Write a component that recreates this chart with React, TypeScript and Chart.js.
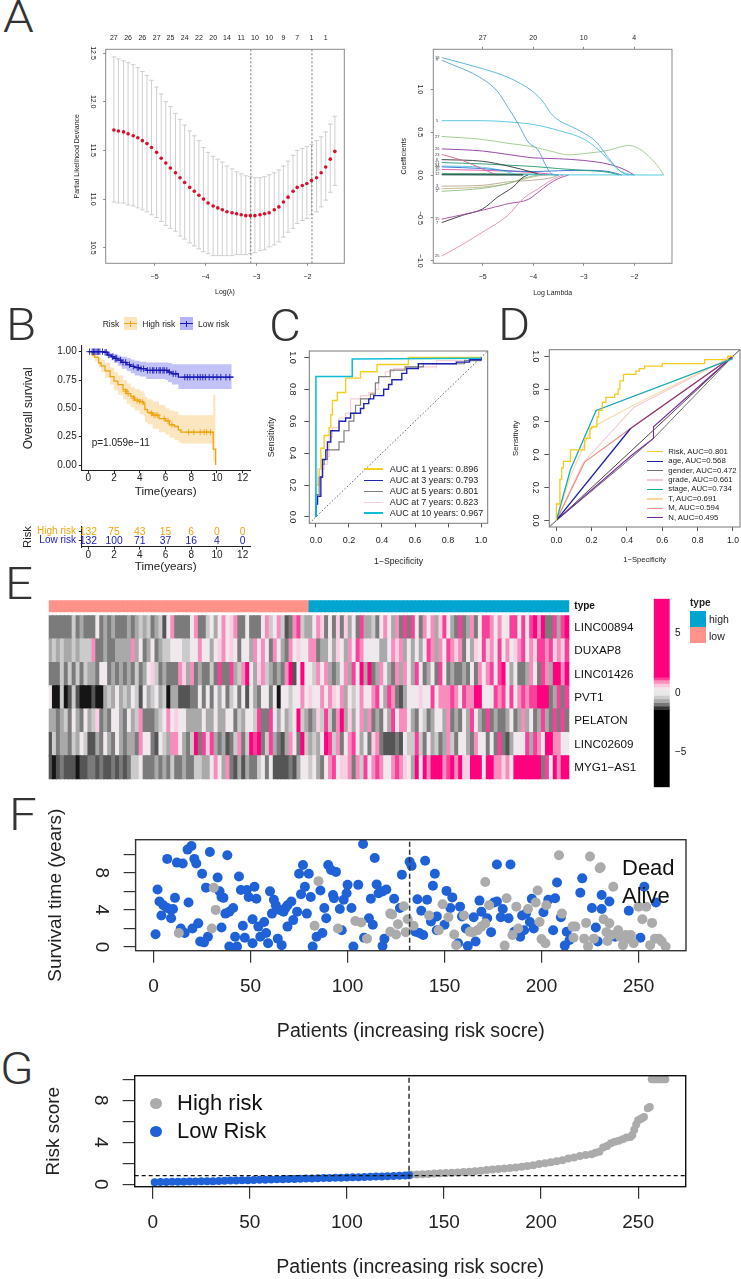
import React, { useEffect, useRef } from "react";
import { Chart, registerables } from "chart.js";
Chart.register(...registerables);

const FF = "'Liberation Sans', Arial, sans-serif";

// ---------- Panel A (left): partial likelihood deviance ----------
const cvLambda = [-5.80,-5.71,-5.61,-5.52,-5.42,-5.33,-5.24,-5.15,-5.06,-4.96,-4.87,-4.78,-4.69,-4.59,-4.50,-4.41,-4.31,-4.22,-4.13,-4.04,-3.95,-3.85,-3.76,-3.67,-3.58,-3.48,-3.39,-3.30,-3.21,-3.12,-3.03,-2.93,-2.84,-2.75,-2.65,-2.56,-2.47,-2.38,-2.28,-2.20,-2.10,-2.01,-1.92,-1.82,-1.73,-1.64,-1.55,-1.46];
const cvMean = [11.71,11.70,11.69,11.67,11.65,11.63,11.60,11.57,11.53,11.48,11.42,11.37,11.32,11.27,11.22,11.17,11.12,11.08,11.04,11.00,10.96,10.93,10.91,10.89,10.87,10.86,10.85,10.84,10.83,10.83,10.83,10.84,10.85,10.86,10.89,10.92,10.97,11.02,11.08,11.12,11.14,11.16,11.19,11.22,11.27,11.33,11.41,11.49];
const cvUpper = [12.46,12.44,12.42,12.40,12.38,12.35,12.31,12.27,12.22,12.15,12.08,12.00,11.95,11.88,11.82,11.76,11.70,11.65,11.60,11.53,11.48,11.44,11.41,11.38,11.34,11.31,11.28,11.26,11.24,11.23,11.22,11.22,11.23,11.25,11.27,11.30,11.34,11.39,11.45,11.50,11.52,11.54,11.56,11.60,11.64,11.69,11.77,11.85];
const cvLower = [10.97,10.96,10.96,10.94,10.93,10.91,10.89,10.87,10.84,10.81,10.77,10.73,10.70,10.67,10.62,10.59,10.55,10.52,10.49,10.46,10.44,10.42,10.42,10.42,10.42,10.42,10.43,10.43,10.43,10.44,10.45,10.47,10.48,10.51,10.53,10.56,10.61,10.66,10.70,10.75,10.78,10.80,10.84,10.87,10.92,10.99,11.07,11.14];
const cvTopTicks = [-5.80,-5.52,-5.24,-4.96,-4.69,-4.41,-4.13,-3.85,-3.58,-3.30,-3.03,-2.75,-2.47,-2.20,-1.92,-1.64];
const cvTopLabels = ["27","26","26","27","25","24","22","20","14","11","10","10","9","7","1","1"];
const cvLambdaMin = -3.11;
const cvLambda1se = -1.91;

// ---------- Panel A (right): coefficient paths ----------
const coefA: number[][] = [[-5.81,1.37],[-5,1.24],[-4.5,1.14],[-4,.97],[-3.8,.85],[-3.65,.72],[-3.5,.64],[-3.3,.58],[-3,.49],[-2.75,.385],[-2.5,.19],[-2.3,.055],[-2.15,.015],[-2,0]];
const coefB: number[][] = [[-5.81,1.34],[-5,1.12],[-4.7,.97],[-4.5,.79],[-4.3,.6],[-4.1,.385],[-3.9,.29],[-3.75,.11],[-3.65,.02],[-3.5,0]];
const coefC: number[][] = [[-5.81,.634],[-5,.634],[-4.5,.62],[-4,.59],[-3.5,.52],[-3,.42],[-2.7,.29],[-2.4,.11],[-2.2,.015],[-2.1,0]];
const coefD: number[][] = [[-5.81,.45],[-5,.415],[-4.5,.37],[-4,.33],[-3.5,.255],[-3.3,.235],[-3,.25],[-2.5,.29],[-2.3,.325],[-2.1,.345],[-1.9,.305],[-1.7,.21],[-1.5,.075],[-1.42,0]];
const coefE: number[][] = [[-5.81,.305],[-5,.28],[-4.5,.24],[-4,.2],[-3.5,.19],[-3,.17],[-2.5,.125],[-2.2,.065],[-2,0]];
const coefF: number[][] = [[-5.81,.24],[-5.4,.17],[-5,.07],[-4.8,.02],[-4.7,0]];
const coefG: number[][] = [[-5.81,.18],[-5,.16],[-4.5,.105],[-4,.03],[-3.85,0]];
const coefH: number[][] = [[-5.81,.145],[-5,.13],[-4.5,.115],[-4,.1],[-3.5,.075],[-3,.055],[-2.5,.03],[-2.3,0]];
const coefI: number[][] = [[-5.81,.095],[-5,.075],[-4.5,.05],[-4,.04],[-3.5,.05],[-3,.055],[-2.5,.04],[-2.25,0]];
const coefJ: number[][] = [[-5.81,.065],[-5,.055],[-4,.03],[-3.5,0]];
const coefK: number[][] = [[-5.81,.105],[-5,.09],[-4.6,.05],[-4.3,0]];
const coefL: number[][] = [[-5.81,.015],[-4,.01],[-3.5,0]];
const coefM: number[][] = [[-5.81,-.13],[-5,-.12],[-4.5,-.08],[-4,-.06],[-3.6,-.025],[-3.5,0]];
const coefN: number[][] = [[-5.81,-.16],[-5,-.14],[-4.5,-.1],[-4.2,-.05],[-3.9,-.01],[-3.7,0]];
const coefO: number[][] = [[-5.81,-.19],[-5,-.155],[-4.5,-.1],[-4.2,-.04],[-4,-.01],[-3.9,0]];
const coefP: number[][] = [[-5.81,-.555],[-5.4,-.47],[-5,-.395],[-4.7,-.255],[-4.4,-.14],[-4.2,-.025],[-4.1,0]];
const coefQ: number[][] = [[-5.81,-.515],[-5,-.41],[-4.5,-.335],[-4.1,-.285],[-3.9,-.2],[-3.7,-.11],[-3.5,-.04],[-3.3,0]];
const coefR: number[][] = [[-5.81,-.945],[-5.4,-.81],[-5,-.665],[-4.5,-.47],[-4.2,-.275],[-3.9,-.16],[-3.7,-.08],[-3.5,-.02],[-3.4,0]];
const coefZero: number[][] = [[-5.81,.005],[-1.42,0]];
const coefDense: number[][] = [[-5.81,.004],[-4.2,.002]];
const coefPaths = [coefL,coefJ,coefK,coefI,coefH,coefG,coefF,coefM,coefN,coefO,coefP,coefQ,coefR,coefE,coefD,coefC,coefB,coefA];
const coefColors = ["#1a7a50","#d94fa5","#55c8e0","#2a6fd6","#239a70","#333333","#d0608f","#b5a98a","#c2b58a","#8fbf80","#333333","#a04a9f","#e58ab0","#8a3a9a","#9cc98c","#4fc4dc","#5a9fd0","#4fb0dc"];
const coefIds = ["12","19","24","10","21","6","23","3","13","2","7","15","25","26","27","5","9","18"];

// ---------- Panel B: survival ----------
const highT = [0,.3,.5,.8,1,1.3,1.7,2,2.3,2.7,3,3.3,3.6,4,4.3,4.4,4.6,5,5.5,6,6.3,6.7,7,7.2,9.7,9.71,9.9];
const highS = [1,.97,.95,.9,.875,.83,.78,.74,.71,.665,.63,.605,.575,.56,.54,.49,.465,.44,.41,.39,.355,.34,.31,.29,.29,.14,0];
const highU = [1,.99,.98,.95,.93,.9,.86,.82,.79,.75,.72,.69,.67,.65,.63,.6,.58,.56,.53,.5,.48,.47,.44,.44,.44,.62,.62];
const highL = [1,.95,.91,.86,.82,.77,.71,.66,.62,.58,.54,.51,.48,.45,.43,.38,.36,.32,.29,.27,.24,.22,.2,.19,.19,.03,.03];
const lowT = [0,1.2,1.5,1.8,2,2.3,2.6,3,3.3,3.6,4,4.5,6,6.2,6.5,7,11.15];
const lowS = [1,.995,.97,.955,.94,.925,.905,.885,.87,.86,.85,.835,.835,.82,.805,.775,.775];
const lowU = [1,1,.99,.985,.98,.965,.955,.945,.93,.92,.91,.905,.905,.9,.89,.89,.89];
const lowL = [1,.99,.945,.925,.9,.875,.85,.83,.81,.79,.78,.76,.75,.73,.71,.67,.67];
const lowLineEnd = 11.3;
const highCensor: number[][] = [[2.9,.65],[3.1,.63],[3.5,.59],[3.8,.57],[4,.56],[4.2,.555],[4.9,.455],[5.1,.44],[5.25,.44],[5.4,.44],[5.9,.41],[6.2,.39],[6.5,.355],[7.8,.29],[8.2,.29],[8.7,.29],[9,.29],[9.2,.29],[9.5,.29]];
const lowCensor: number[][] = [[.1,1],[.3,1],[.4,1],[.5,1],[.6,1],[.7,1],[.8,1],[.9,1],[1.1,1],[1.3,.995],[1.4,.995],[1.6,.97],[1.9,.955],[2.1,.94],[2.2,.94],[2.5,.925],[2.7,.905],[2.9,.905],[3.2,.885],[3.5,.87],[3.8,.86],[3.9,.86],[4.1,.85],[4.3,.85],[4.6,.835],[4.8,.835],[5,.835],[5.1,.835],[5.3,.835],[5.5,.835],[5.6,.835],[5.8,.835],[5.9,.835],[6.1,.835],[6.3,.82],[6.6,.805],[6.8,.805],[7.5,.775],[7.7,.775],[7.9,.775],[8.2,.775],[8.5,.775],[8.7,.775],[8.9,.775],[9.1,.775],[9.4,.775],[9.7,.775],[10,.775],[10.3,.775],[10.7,.775],[11,.775]];
const riskTimes = [0,2,4,6,8,10,12];
const riskHighN = [132,75,43,15,6,0,0];
const riskLowN = [132,100,71,37,16,4,0];

// ---------- Panel C: ROC by year ----------
const rocY1: number[][] = [[0,0],[0,.2],[.02,.3],[.03,.43],[.05,.51],[.08,.56],[.09,.64],[.1,.73],[.13,.78],[.18,.87],[.27,.91],[.37,.955],[.56,.955],[.56,1],[1,1]];
const rocY3: number[][] = [[0,0],[0,.08],[.01,.13],[.03,.25],[.04,.36],[.06,.42],[.07,.47],[.09,.54],[.14,.6],[.18,.62],[.21,.65],[.27,.68],[.29,.71],[.32,.74],[.35,.76],[.41,.8],[.44,.83],[.46,.86],[.52,.9],[.55,.93],[.62,.96],[.85,.97],[.93,.985],[1,1]];
const rocY5: number[][] = [[0,0],[0,.14],[.02,.25],[.04,.33],[.05,.36],[.07,.42],[.14,.47],[.17,.54],[.2,.6],[.23,.65],[.24,.7],[.27,.74],[.33,.77],[.36,.84],[.38,.88],[.45,.92],[.54,.94],[.65,.96],[.9,.98],[1,1]];
const rocY7: number[][] = [[0,0],[0,.2],[.01,.3],[.05,.33],[.07,.38],[.08,.5],[.1,.56],[.14,.62],[.18,.65],[.21,.74],[.27,.76],[.32,.78],[.36,.8],[.38,.88],[.42,.91],[.47,.93],[.55,.94],[.73,.93],[.73,.98],[.9,.99],[1,1]];
const rocY10: number[][] = [[0,0],[0,.88],[.22,.88],[.22,.99],[1,.995]];
const rocNames = ["AUC at 1 years: 0.896","AUC at 3 years: 0.793","AUC at 5 years: 0.801","AUC at 7 years: 0.823","AUC at 10 years: 0.967"];
const rocColors = ["#f5cf1d","#1f22b4","#7f7f7f","#f6cfd6","#10bfd4"];

// ---------- Panel D: ROC by variable ----------
const varRisk: number[][] = [[0,0],[0,.04],[0,.1],[.02,.25],[.03,.32],[.04,.36],[.08,.43],[.15,.43],[.16,.5],[.19,.56],[.2,.57],[.23,.63],[.24,.67],[.26,.72],[.28,.75],[.33,.77],[.35,.8],[.36,.85],[.38,.89],[.45,.91],[.47,.925],[.5,.94],[.6,.955],[.84,.98],[.97,1],[1,1]];
const varAgeA: number[][] = [[0,0],[.42,.56]];
const varAgeB: number[][] = [[.42,.56],[.44,.575],[1,1]];
const varGender: number[][] = [[0,0],[.39,.35],[.55,.5],[1,1]];
const varGrade: number[][] = [[0,0],[.15,.35],[.44,.69],[1,1]];
const varStage: number[][] = [[0,0],[.08,.31],[.225,.67],[1,.985]];
const varT: number[][] = [[0,0],[.08,.27],[.2,.565],[.45,.71],[1,1]];
const varM: number[][] = [[0,0],[.16,.355],[.42,.56],[1,1]];
const varN: number[][] = [[0,0],[.43,.4],[.55,.5],[.55,.57],[1,1]];
const varNames = ["Risk, AUC=0.801","age, AUC=0.568","gender, AUC=0.472","grade, AUC=0.661","stage, AUC=0.734","T, AUC=0.691","M, AUC=0.594","N, AUC=0.495"];
const varColors = ["#f2cb1c","#1c1fa8","#6e6e6e","#f4c9cf","#16a9b4","#f7d9a0","#ec8f7f","#7a2a9a"];

// ---------- Panel E: heatmap ----------
const heatGenes = ["LINC00894","DUXAP8","LINC01426","PVT1","PELATON","LINC02609","MYG1−AS1"];
const heatRows = [
  "2222224232 2252323222 3234342341 5722225722 4535756722 5222574574 1278433576 2526263528 3342575372 8285275736 8532823725 8875755885 8589792283 89",
  "3434334344 4722322333 3735235234 4555445575 5356756525 5375752753 2756557723 3536537587 5555335767 3535358737 5876725365 8675857567 8576887867 68",
  "2224242424 3325523232 3242356423 2227637232 2428228347 9536743232 7915955475 7323573859 3923753273 7538523528 5232232527 5785895352 2375287399 79",
  "5004014100 0100343534 3541534534 0331112252 5253524525 1532552505 5455756557 5765735457 5578538721 3555655857 7787587799 5558785857 8788999238 28",
  "3323425325 3462325532 5347222345 7565533335 3353355243 5548228535 3459432364 8427936357 3723253857 7532542355 3723253853 2823223523 7352383282 82",
  "1423324354 1132532532 3327552154 3775324928 6832312472 4989248321 3752943435 9847257853 5267211121 5448425342 3742553275 5252821355 5838759977 55",
  "1012111011 2212112121 2445222323 2422322443 3575372131 3224525111 1213554532 5785667274 8578755787 6539597999 7897966999 5997767599 9999928597 99",
];
const heatLevels = ["#151515","#555555","#7b7b7b","#a9a9a9","#cbcbcb","#efe8ec","#f9d0e3","#f78dbd","#f8409a","#ff007f"];
const lowColumns = 66;
const annoColors = ["#ff9289","#00a5cf"];
const barEdges = [-7.9,-1.4,-1.1,-.8,-.5,-.2,.2,.5,.8,1.1,1.3,7.9];
const barColors = ["#000000","#333333","#777777","#aaaaaa","#cccccc","#e8e8e8","#f5e5ec","#fcc6dc","#fb8fbd","#ff3f97","#ff007f"];

// ---------- Panel F: survival time scatter ----------
const aliveXY: number[][] = [[1,1.37],[2,6.2],[3,4.9],[5,4.5],[4,3.4],[7,9.5],[7,4.2],[9,4],[9,3.1],[10,4.1],[11,5.3],[12,9.1],[15,9],[14,2],[16,1.5],[17.5,10.5],[19.5,10.9],[21,9.5],[22,9],[18,4.8],[20,2],[23,2.55],[25,7.9],[24,.6],[26,.5],[28,1.1],[27,6.4],[29,10.25],[33,7.5],[34,6],[35,5.4],[36,5.3],[35,2.1],[37,3.6],[38,9.9],[39,3.8],[41,4.2],[39,.04],[42,1.1],[43,.04],[44,7.6],[45,6.15],[46,2.3],[47,1],[48,6.15],[49,5.4],[51,.4],[51,3],[52,6.5],[53,5.2],[54,2.2],[55,1.1],[57,2.7],[58,1.5],[59,.4],[60,6],[61,3.6],[62,5.1],[63,4.5],[64,.9],[66,.2],[65,4],[67,3.8],[68,4.2],[69,4.5],[71,4.9],[69,2.2],[72,2.9],[74,3.8],[75,7.9],[76,5.7],[77,8.85],[78,6.5],[79,3.6],[80,7.9],[81,5.4],[82,.04],[84,1.1],[86,6.1],[87,1.5],[88,4.2],[89,3.1],[90,8.85],[91.5,8.3],[92.5,5.6],[94,8.1],[93,5.25],[96,4.1],[97,1.8],[98,5.1],[99.5,5.8],[100,6.7],[102,4.2],[103,.04],[105.5,6.7],[108.5,1],[108,11.1],[111,3.1],[112,5.2],[113,2.4],[114,9.6],[115,6.75],[116,5.8],[118,6],[118,.1],[119,.9],[120,6.2],[124,5.2],[127,4.2],[128,7.8],[132,9.2],[133,8.75],[135,1.65],[136,5.15],[137,1.5],[139,1.3],[138,3.9],[140,9.3],[141,5.1],[144,6.6],[145,7.9],[143,2.75],[146,3.3],[146,1.8],[150,2.4],[151,6.05],[153,4.2],[154,5.35],[157,.4],[158,4.35],[159,3.3],[161,2],[162,.1],[165,3.2],[166,.6],[168,5],[169,3.8],[172,3.1],[174,1.6],[175.5,4.8],[177,4.9],[177,8.9],[179,3.2],[180,4.1],[183,3.1],[184,8.9],[186,1.65],[189,1.1],[190,3.4],[191,1.8],[192,3.6],[194,2.7],[195,5.2],[196,2],[201,3.75],[203.5,5.1],[206,1.8],[207,5.25],[208,6.95],[210,3.2],[212,.15],[213,1.65],[214.5,.75],[220,5.85],[221,7.4],[226,4.2],[228,2.1],[229,.6],[231,5.6],[231,4.1],[235,4.9],[238,1.1],[245,3.9],[251,1],[253,6.5],[259,4.8]];
const deadXY: number[][] = [[13,1.5],[30,2],[31,6.4],[32,4],[83,2.3],[85,7.1],[95,2],[104,2.8],[107,2.65],[110,.9],[122,3.6],[123,3.5],[122,1.65],[125,1.35],[126,2.45],[129,4.4],[130,1.6],[131,3],[134,2.3],[142,3.4],[147,1.8],[149,4.6],[152,3.2],[155,1.35],[156,.2],[160,3.4],[163,1.65],[164.5,1.6],[167,1.8],[169,2.2],[171,7],[171,2.55],[173,4.5],[181,.15],[182,5.25],[185,1.3],[187,4.35],[188,2],[193,4.1],[197,4.8],[198,6.1],[199,2.7],[200,.85],[202,.4],[202.5,4.5],[210.5,3.6],[209,9.9],[216,2.2],[217.5,2.2],[216.5,1],[222,.9],[223,2.6],[224,.05],[225,9.75],[227,.9],[230.5,8.6],[230,8.5],[232,3],[233.5,1.6],[235,2.55],[234,.65],[237,6.5],[236,1.3],[239.5,1.8],[240.5,1.1],[242,.2],[243.5,1.3],[245,.9],[246,1.3],[247.5,.4],[250,4.35],[254,4.35],[252,3],[257,2.6],[256,.2],[258.5,.9],[260.5,.9],[262,.6],[264,.05]];
const cutIndex = 132;

// ---------- Panel G: risk score ----------
const lowRiskX = [1,4,7,10,13,16,19,22,25,28,31,34,37,40,43,46,49,52,55,58,61,64,67,70,73,76,79,82,85,88,91,94,97,100,103,106,109,112,115,118,121,124,127,130,132];
const lowRiskY = [.2,.21,.22,.23,.24,.25,.26,.27,.28,.29,.3,.32,.33,.35,.36,.38,.39,.41,.42,.44,.45,.47,.48,.5,.51,.53,.54,.56,.57,.59,.6,.62,.63,.65,.66,.68,.69,.71,.73,.75,.77,.79,.81,.83,.85];
const highRiskX = [133,136,139,142,145,148,151,154,157,160,163,166,169,172,175,178,181,184,187,190,193,196,199,202,205,208,211,214,217,220,223,226,228,230,232,234,236,238,240,242,244,246,247,248,249,250,251,252,253,255,256,257,258,259,260,261,262,263,264];
const highRiskY = [.9,.93,.96,.99,1.02,1.05,1.08,1.1,1.13,1.17,1.2,1.24,1.3,1.35,1.4,1.46,1.5,1.55,1.6,1.67,1.75,1.82,1.92,2,2.1,2.2,2.3,2.45,2.55,2.7,2.78,2.85,3,3.1,3.5,3.65,3.9,4.05,4.15,4.3,4.45,4.5,4.7,5.2,5.7,6.1,6.2,6.3,6.4,7.25,7.35,10,10,10,10,10,10,10,10];
const riskCut = 0.82;
const patientTicks = [0,50,100,150,200,250];

// ---------- helpers ----------
type Axis = {
  min?: number; max?: number; ticks?: number[]; fmt: (v: number, i: number) => string; size: number;
  color?: any; tl: number; labelAt: number; title?: string; titleAt?: number; titleSize?: number; rotated?: boolean;
  sample?: string; tickColor?: string; tickWidth?: number; line?: { color: string; width: number }; hide?: boolean; fontFn?: any;
};
type Spec = {
  type?: string; rect: number[]; outer: number[]; x: Axis; y: Axis; top?: Axis; rightY?: boolean;
  datasets: any[]; labels?: any[]; box?: { color: string; width: number }; draw?: (c: any) => void; stacked?: boolean;
};
const mc = typeof document !== "undefined" ? document.createElement("canvas").getContext("2d") : null;
function textW(s: string, size: number) { if (!mc) return 0; mc.font = `${size}px ${FF}`; return mc.measureText(s).width; }
const fixed = (d: number) => (v: number) => v.toFixed(d).replace("-", "−");

function makeAxis(a: Axis, pos: string, s: Spec) {
  const [l, t, r, b] = s.rect; const [L, T, R, B] = s.outer;
  if (a.hide) return { display: false, stacked: s.stacked, min: a.min, max: a.max, type: s.type === "bar" ? "category" : "linear" };
  const horizontal = pos === "bottom" || pos === "top";
  let pad = 0;
  if (pos === "bottom") pad = a.labelAt - b - a.tl - 0.6 * a.size;
  if (pos === "top") pad = t - a.tl - a.labelAt - 0.6 * a.size;
  if (pos === "left") pad = a.rotated ? l - a.tl - a.labelAt - textW(a.sample || "0", a.size) / 2 : l - a.tl - a.labelAt;
  if (pos === "right") pad = a.labelAt - r - a.tl;
  const ts = a.titleSize || a.size;
  const titlePad = a.title ? (pos === "bottom" ? B - (a.titleAt as number) - 0.6 * ts : (a.titleAt as number) - 0.6 * ts - L) : 0;
  return {
    type: "linear", position: pos, min: a.min, max: a.max, stacked: s.stacked,
    afterBuildTicks: (sc: any) => { sc.ticks = (a.ticks as number[]).map((value) => ({ value })); },
    afterFit: (sc: any) => {
      if (pos === "bottom") sc.height = B - b; else if (pos === "top") sc.height = t - T;
      else if (pos === "left") sc.width = l - L; else sc.width = R - r;
      sc.paddingTop = 0; sc.paddingBottom = 0; sc.paddingLeft = 0; sc.paddingRight = 0;
    },
    grid: { display: true, drawOnChartArea: false, drawTicks: a.tl > 0, tickLength: a.tl, color: a.tickColor || "#555555", lineWidth: a.tickWidth || 1 },
    border: a.line ? { display: true, color: a.line.color, width: a.line.width } : { display: false },
    ticks: {
      autoSkip: false, padding: pad, color: a.color || "#222222",
      font: a.fontFn || { size: a.size, family: FF },
      callback: (v: number, i: number) => a.fmt(v, i),
      ...(horizontal ? { maxRotation: 0, minRotation: 0 } : a.rotated ? { minRotation: -90, maxRotation: 0, crossAlign: "center" } : { minRotation: 0, maxRotation: 0 }),
    },
    title: a.title ? { display: true, text: a.title, color: "#222222", font: { size: ts, family: FF }, padding: { top: titlePad, bottom: titlePad } } : { display: false },
  };
}

function buildConfig(s: Spec) {
  const [l, t, r, b] = s.rect; const [L, T, R, B] = s.outer;
  const n = s.datasets.length;
  const datasets = s.datasets.map((d, i) => ({ order: n - i, ...d }));
  const scales: any = { x: makeAxis(s.x, "bottom", s), y: makeAxis(s.y, s.rightY ? "right" : "left", s) };
  if (s.top) scales.xT = { ...makeAxis(s.top, "top", s), axis: "x" };
  const padding: any = { top: s.top ? 0 : t - T, right: s.rightY ? 0 : R - r, left: s.rightY ? l - L : 0, bottom: s.x.hide ? B - b : 0 };
  return {
    type: s.type || "line",
    data: { labels: s.labels, datasets },
    options: {
      animation: false, responsive: false, events: [], layout: { padding },
      plugins: { legend: { display: false }, tooltip: { enabled: false }, title: { display: false } },
      scales,
    },
    plugins: [{
      id: "panelExtras",
      afterDatasetsDraw(c: any) {
        const ctx = c.ctx; const A = c.chartArea;
        if (s.box) { ctx.save(); ctx.strokeStyle = s.box.color; ctx.lineWidth = s.box.width; ctx.strokeRect(A.left, A.top, A.right - A.left, A.bottom - A.top); ctx.restore(); }
        if (s.draw) { ctx.save(); s.draw(c); ctx.restore(); }
      },
    }],
  };
}

function Panel({ spec }: { spec: Spec }) {
  const ref = useRef<HTMLCanvasElement | null>(null);
  const [L, T, R, B] = spec.outer;
  useEffect(() => {
    const c = new Chart(ref.current as any, buildConfig(spec) as any);
    return () => c.destroy();
  }, []);
  return <canvas ref={ref} width={R - L} height={B - T} style={{ position: "absolute", left: L, top: T, width: R - L, height: B - T }} />;
}

function Txt({ x, y, s, size, color = "#222", anchor = "left", bold = false, family = FF, weight, stretch }: any) {
  const tx = anchor === "center" ? "-50%" : anchor === "right" ? "-100%" : "0";
  const sc = stretch ? ` scaleX(${stretch})` : "";
  return <div style={{ position: "absolute", left: x, top: y, transform: `translate(${tx},-50%)${sc}`, transformOrigin: "left center", fontFamily: family, fontSize: size, lineHeight: 1, color, whiteSpace: "nowrap", fontWeight: weight || (bold ? 700 : 400) }}>{s}</div>;
}
function Box({ x, y, w, h, bg, radius }: any) {
  return <div style={{ position: "absolute", left: x, top: y, width: w, height: h, background: bg, borderRadius: radius }} />;
}
const xy = (p: number[][]) => p.map(([x, y]) => ({ x, y }));
const zip = (a: number[], b: number[]) => a.map((x, i) => ({ x, y: b[i] }));
const lineDs = (data: any[], color: string, width = 1, extra: any = {}) => ({ data, borderColor: color, borderWidth: width, pointRadius: 0, fill: false, clip: 0, tension: 0, ...extra });
const dotDs = (data: any[], color: string, r: number, extra: any = {}) => ({ data, showLine: false, pointRadius: r, pointBackgroundColor: color, pointBorderWidth: 0, clip: 0, ...extra });

// error bar segments of panel A, built from the three arrays
function errorBars() {
  const out: any[] = []; const cap = 0.045;
  cvLambda.forEach((x, i) => {
    out.push({ x, y: cvLower[i] }, { x, y: cvUpper[i] }, { x: NaN, y: NaN });
    out.push({ x: x - cap, y: cvUpper[i] }, { x: x + cap, y: cvUpper[i] }, { x: NaN, y: NaN });
    out.push({ x: x - cap, y: cvLower[i] }, { x: x + cap, y: cvLower[i] }, { x: NaN, y: NaN });
  });
  return out;
}

const specA1: Spec = {
  rect: [105.7, 49.3, 344.3, 263.3], outer: [60, 25, 352, 300], box: { color: "#8a8a8a", width: 1 },
  x: { min: -5.96, max: -1.275, ticks: [-5, -4, -3, -2], fmt: fixed(0), size: 7, tl: 2.5, labelAt: 277.3, title: "Log(λ)", titleAt: 291.7, tickColor: "#888888" },
  y: { min: 10.341, max: 12.538, ticks: [10.5, 11, 11.5, 12, 12.5], fmt: fixed(1), size: 7, tl: 2.5, labelAt: 93.3, rotated: true, sample: "12.5", title: "Partial Likelihood Deviance", titleAt: 76.7, tickColor: "#888888" },
  top: { min: -5.96, max: -1.275, ticks: cvTopTicks, fmt: (_v, i) => cvTopLabels[i], size: 7, tl: 0, labelAt: 37.7 },
  datasets: [
    lineDs(errorBars(), "#c9c9c9", 0.9, { spanGaps: false }),
    lineDs(xy([[cvLambdaMin, 10.341], [cvLambdaMin, 12.538]]), "#555555", 0.8, { borderDash: [2, 2] }),
    lineDs(xy([[cvLambda1se, 10.341], [cvLambda1se, 12.538]]), "#555555", 0.8, { borderDash: [2, 2] }),
    dotDs(zip(cvLambda, cvMean), "#dc0c2c", 1.8),
  ],
};

const specA2: Spec = {
  rect: [433.3, 49.3, 672, 263.3], outer: [395, 25, 680, 300], box: { color: "#8a8a8a", width: 1 },
  x: { min: -5.977, max: -1.254, ticks: [-5, -4, -3, -2], fmt: fixed(0), size: 7, tl: 2.5, labelAt: 277.3, title: "Log Lambda", titleAt: 293, tickColor: "#888888" },
  y: { min: -1.03, max: 1.467, ticks: [-1, -0.5, 0, 0.5, 1], fmt: fixed(1), size: 7, tl: 2.5, labelAt: 420, rotated: true, sample: "−0.5", title: "Coefficients", titleAt: 404.3, tickColor: "#888888" },
  top: { min: -5.977, max: -1.254, ticks: [-5, -4, -3, -2], fmt: (_v, i) => ["27", "20", "10", "4"][i], size: 7, tl: 2.5, labelAt: 37.7, tickColor: "#888888" },
  datasets: [
    ...coefPaths.map((p, i) => lineDs(xy(p), coefColors[i], 0.9, { cubicInterpolationMode: "monotone" })),
    lineDs(xy(coefZero), "#40c4dc", 0.9),
    lineDs(xy(coefDense), "#224433", 1.1),
  ],
  draw(c) {
    const ctx = c.ctx; ctx.font = `4px ${FF}`; ctx.fillStyle = "#444"; ctx.textAlign = "center"; ctx.textBaseline = "middle";
    coefPaths.forEach((p, i) => ctx.fillText(coefIds[i], c.scales.x.getPixelForValue(-5.9), c.scales.y.getPixelForValue(p[0][1])));
  },
};

const ORANGE = "#efa40f"; const NAVY = "#1818b8";
const specB: Spec = {
  rect: [81.3, 346, 250, 470.7], outer: [15, 335, 255, 500],
  x: { min: -0.544, max: 12.57, ticks: riskTimes, fmt: fixed(0), size: 10, tl: 2.5, labelAt: 478.3, title: "Time(years)", titleAt: 491.7, titleSize: 11.7, line: { color: "#222", width: 1.1 }, tickColor: "#222" },
  y: { min: -0.05, max: 1.05, ticks: [0, .25, .5, .75, 1], fmt: fixed(2), size: 10, tl: 2.5, labelAt: 76.7, title: "Overall survival", titleAt: 28.3, titleSize: 12, line: { color: "#222", width: 1.1 }, tickColor: "#222" },
  datasets: [
    lineDs(zip(highT, highU), "rgba(0,0,0,0)", 0, { stepped: true, fill: "+1", backgroundColor: "rgba(245,180,60,0.33)" }),
    lineDs(zip(highT, highL), "rgba(0,0,0,0)", 0, { stepped: true }),
    lineDs(zip(lowT, lowU), "rgba(0,0,0,0)", 0, { stepped: true, fill: "+1", backgroundColor: "rgba(70,70,235,0.33)" }),
    lineDs(zip(lowT, lowL), "rgba(0,0,0,0)", 0, { stepped: true }),
    lineDs(zip(highT, highS), ORANGE, 1.3, { stepped: true }),
    lineDs([...zip(lowT, lowS), { x: lowLineEnd, y: lowS[lowS.length - 1] }], NAVY, 1.3, { stepped: true }),
    dotDs(xy(highCensor), ORANGE, 3, { pointStyle: "cross", pointBorderColor: ORANGE, pointBorderWidth: 0.9 }),
    dotDs(xy(lowCensor), NAVY, 3.2, { pointStyle: "cross", pointBorderColor: NAVY, pointBorderWidth: 0.9 }),
  ],
};

const specRisk: Spec = {
  rect: [81.3, 527, 250, 547], outer: [15, 520, 255, 575],
  x: { min: -0.544, max: 12.57, ticks: riskTimes, fmt: fixed(0), size: 10, tl: 2.5, labelAt: 555.7, title: "Time(years)", titleAt: 567, titleSize: 11.7, line: { color: "#222", width: 1.1 }, tickColor: "#222" },
  y: { min: 0.3, max: 2.52, ticks: [1, 2], fmt: (v) => (v === 2 ? "High risk" : "Low risk"), size: 10, tl: 2.5, labelAt: 76, title: "Risk", titleAt: 28.3, titleSize: 11.3, color: (c: any) => (c.tick.value === 2 ? ORANGE : NAVY), line: { color: "#222", width: 1.1 }, tickColor: "#222" },
  datasets: [lineDs([], "#000")],
  draw(c) {
    const ctx = c.ctx; ctx.font = `10.3px ${FF}`; ctx.textAlign = "center"; ctx.textBaseline = "middle";
    riskTimes.forEach((t, i) => {
      const px = c.scales.x.getPixelForValue(t);
      ctx.fillStyle = ORANGE; ctx.fillText(String(riskHighN[i]), px, c.scales.y.getPixelForValue(2));
      ctx.fillStyle = NAVY; ctx.fillText(String(riskLowN[i]), px, c.scales.y.getPixelForValue(1));
    });
  },
};

const rocTicks = [0, .2, .4, .6, .8, 1];
const specC: Spec = {
  rect: [309.3, 351, 487.7, 523.3], outer: [262, 345, 495, 572], box: { color: "#777777", width: 1 },
  x: { min: -.04, max: 1.04, ticks: rocTicks, fmt: fixed(1), size: 9, tl: 4, labelAt: 540.7, title: "1−Specificity", titleAt: 562, titleSize: 8.7 },
  y: { min: -.04, max: 1.04, ticks: rocTicks, fmt: fixed(1), size: 9, tl: 5, labelAt: 292.7, rotated: true, sample: "0.0", title: "Sensitivity", titleAt: 271.7, titleSize: 8.9 },
  datasets: [
    lineDs(xy([[-.04, -.04], [1.04, 1.04]]), "#333333", 0.8, { borderDash: [1.5, 2] }),
    lineDs(xy(rocY1), rocColors[0], 1.4, { stepped: true }),
    lineDs(xy(rocY7), rocColors[3], 1.2, { stepped: true }),
    lineDs(xy(rocY5), rocColors[2], 1.2, { stepped: true }),
    lineDs(xy(rocY3), rocColors[1], 1.4, { stepped: true }),
    lineDs(xy(rocY10), rocColors[4], 1.6),
  ],
};

const specD: Spec = {
  rect: [549.3, 349.7, 740, 527], outer: [505, 345, 741, 570], box: { color: "#777777", width: 1 },
  x: { min: -.04, max: 1.04, ticks: rocTicks, fmt: fixed(1), size: 8.6, tl: 4, labelAt: 540.7, title: "1−Specificity", titleAt: 560, titleSize: 7.6 },
  y: { min: -.04, max: 1.04, ticks: rocTicks, fmt: fixed(1), size: 8.6, tl: 5, labelAt: 535.7, rotated: true, sample: "0.0", title: "Sensitivity", titleAt: 516, titleSize: 7.8 },
  datasets: [
    lineDs(xy([[-.04, -.04], [1.04, 1.04]]), "#333333", 0.9),
    lineDs(xy(varGender), varColors[2], 1),
    lineDs(xy(varGrade), varColors[3], 1.1),
    lineDs(xy(varT), varColors[5], 1.1),
    lineDs(xy(varM), varColors[6], 1.1),
    lineDs(xy(varAgeB), "#8a3a7a", 1.1),
    lineDs(xy(varN), varColors[7], 1.1),
    lineDs(xy(varAgeA), varColors[1], 1.3),
    lineDs(xy(varStage), varColors[4], 1.3),
    lineDs(xy(varRisk), varColors[0], 1.3, { stepped: true }),
  ],
};

// heatmap: stacked bars, one dataset per row (bottom row first)
const heatMatrix = heatRows.map((s) => s.replace(/ /g, "").split("").map(Number));
const heatCols = heatMatrix[0].map((_v, i) => i + 1);
const HEAT_TOP = 7.671;
const heatTickVals = [.5, 1.5, 2.5, 3.5, 4.5, 5.5, 6.5, 7.421];
const heatTickTxt = [...heatGenes].reverse().concat(["type"]);
const cellStyle = { barPercentage: 1, categoryPercentage: 1, borderWidth: 0, inflateAmount: 0.7 };
const specE: Spec = {
  type: "bar", stacked: true, labels: heatCols, rightY: true,
  rect: [48.7, 600.3, 569.3, 779.3], outer: [45, 598, 650, 782],
  x: { hide: true, fmt: String, size: 1, tl: 0, labelAt: 0 },
  y: { min: 0, max: HEAT_TOP, ticks: heatTickVals, fmt: (_v, i) => heatTickTxt[i], size: 11.7, tl: 0, labelAt: 574.3, color: "#111",
       fontFn: (c: any) => (c.tick && c.tick.value > 7 ? { size: 10, family: FF, weight: "bold" } : { size: 11.7, family: FF }) },
  datasets: [
    ...[...heatMatrix].reverse().map((row, i) => ({ order: i, data: row.map(() => 1), backgroundColor: row.map((v) => heatLevels[v]), ...cellStyle })),
    { order: 7, data: heatCols.map(() => 0.171), backgroundColor: "rgba(0,0,0,0)", barPercentage: 1, categoryPercentage: 1, borderWidth: 0 },
    { order: 8, data: heatCols.map(() => 0.5), backgroundColor: heatCols.map((c) => (c <= lowColumns ? annoColors[0] : annoColors[1])), ...cellStyle, inflateAmount: 0.4 },
  ],
};
const specBar: Spec = {
  type: "bar", labels: [""], rightY: true,
  rect: [653.7, 598.7, 669.7, 787.3], outer: [650, 596, 695, 790],
  x: { hide: true, fmt: String, size: 1, tl: 0, labelAt: 0 },
  y: { min: -7.9, max: 7.9, ticks: [-5, 0, 5], fmt: fixed(0), size: 10, tl: 0, labelAt: 675, color: "#111" },
  datasets: barColors.map((col, i) => ({ data: [[barEdges[i], barEdges[i + 1]]], backgroundColor: col, grouped: false, barPercentage: 1, categoryPercentage: 1, borderWidth: 0 })),
};

const halfTicks = (v: number) => (v % 4 === 0 ? String(v) : "");
const BLUE = "#1f62d8"; const GREY = "#ababab";
const specF: Spec = {
  rect: [135.6, 839.7, 686, 950.7], outer: [40, 800, 695, 1045], box: { color: "#333333", width: 1.4 },
  x: { min: -9.3, max: 274.5, ticks: patientTicks, fmt: fixed(0), size: 19, tl: 12, labelAt: 986.7, title: "Patients (increasing risk socre)", titleAt: 1032, titleSize: 19.6, tickColor: "#333", tickWidth: 1.2 },
  y: { min: -0.4, max: 11.57, ticks: [0, 2, 4, 6, 8, 10], fmt: halfTicks, size: 19, tl: 12, labelAt: 101, rotated: true, sample: "8", title: "Survival time (years)", titleAt: 55.8, titleSize: 19, tickColor: "#333", tickWidth: 1.2 },
  datasets: [
    dotDs(xy(aliveXY), BLUE, 5),
    dotDs(xy(deadXY), GREY, 5),
    lineDs(xy([[cutIndex, -0.4], [cutIndex, 11.57]]), "#333333", 1.5, { borderDash: [5, 3] }),
  ],
};
const specG: Spec = {
  rect: [134.7, 1075.7, 685.7, 1186.7], outer: [40, 1070, 695, 1279], box: { color: "#111111", width: 1.4 },
  x: { min: -9.3, max: 274.5, ticks: patientTicks, fmt: fixed(0), size: 19, tl: 12, labelAt: 1222.7, title: "Patients (increasing risk socre)", titleAt: 1268, titleSize: 19.6, tickColor: "#333", tickWidth: 1.2 },
  y: { min: -0.23, max: 10.34, ticks: [0, 2, 4, 6, 8, 10], fmt: halfTicks, size: 19, tl: 12, labelAt: 100.6, rotated: true, sample: "8", title: "Risk score", titleAt: 54, titleSize: 19, tickColor: "#333", tickWidth: 1.2 },
  datasets: [
    dotDs(zip(highRiskX, highRiskY), GREY, 4),
    dotDs(zip(lowRiskX, lowRiskY), BLUE, 4),
    lineDs(xy([[cutIndex, -0.23], [cutIndex, 10.34]]), "#333333", 1.5, { borderDash: [5, 3] }),
    lineDs(xy([[-9.3, riskCut], [274.5, riskCut]]), "#111111", 1.2, { borderDash: [4, 3] }),
  ],
};

const letters: any[] = [["A", 3, 17], ["B", 6, 325], ["C", 269, 326], ["D", 498, 325], ["E", 5, 584], ["F", 9, 815], ["G", 0, 1069]];
const rocRows = [469, 480.3, 491.3, 502.3, 513];
const varRows = [451.7, 461.3, 470.7, 480, 489.3, 499, 508.3, 517.7];

export default function App() {
  useEffect(() => { document.body.style.margin = "0"; }, []);
  return (
    <div style={{ position: "absolute", left: 0, top: 0, width: 741, height: 1279, overflow: "hidden", background: "#fff" }}>
      {[specA1, specA2, specB, specRisk, specC, specD, specE, specBar, specF, specG].map((s, i) => <Panel key={i} spec={s} />)}
      {letters.map(([s, x, y]) => <Txt key={s} s={s} x={x} y={y} size={44} color="#333" family="Roboto, 'Liberation Sans'" weight={300} stretch={1.12} />)}

      <Txt s="Risk" x={102.7} y={323.7} size={8.5} />
      <Box x={124} y={317.3} w={13} h={12.7} bg="rgba(245,180,60,0.35)" />
      <Box x={124} y={323.2} w={13} h={1.1} bg={ORANGE} />
      <Box x={130} y={320.5} w={1} h={6.5} bg={ORANGE} />
      <Txt s="High risk" x={142.3} y={323.7} size={8.5} />
      <Box x={180} y={317.3} w={13} h={12.7} bg="rgba(70,70,235,0.4)" />
      <Box x={180} y={323.2} w={13} h={1.1} bg={NAVY} />
      <Box x={186} y={320.5} w={1} h={6.5} bg={NAVY} />
      <Txt s="Low risk" x={198} y={323.7} size={8.5} />
      <Txt s="p=1.059e−11" x={91.7} y={442.7} size={10} />

      {rocNames.map((n, i) => <React.Fragment key={n}>
        <Box x={364} y={rocRows[i] - 0.6} w={18.7} h={1.3} bg={rocColors[i]} />
        <Txt s={n} x={389.7} y={rocRows[i]} size={9} />
      </React.Fragment>)}
      {varNames.map((n, i) => <React.Fragment key={n}>
        <Box x={646.7} y={varRows[i] - 0.6} w={16.6} h={1.2} bg={varColors[i]} />
        <Txt s={n} x={668.3} y={varRows[i]} size={7.8} />
      </React.Fragment>)}

      <Txt s="type" x={690} y={603} size={10} bold />
      <Box x={690} y={611.3} w={16} h={16} bg={annoColors[1]} />
      <Box x={690} y={627.3} w={16} h={16} bg={annoColors[0]} />
      <Txt s="high" x={709} y={619.3} size={10.5} />
      <Txt s="low" x={709} y={635.7} size={10.5} />

      <Txt s="Dead" x={622} y={868} size={22} color="#111" />
      <Txt s="Alive" x={622} y={896} size={22} color="#111" />

      <Box x={149.5} y={1097.5} w={12} h={11} bg={GREY} radius="50%" />
      <Box x={149.5} y={1125.5} w={12} h={11} bg={BLUE} radius="50%" />
      <Txt s="High risk" x={177} y={1103} size={22} color="#111" />
      <Txt s="Low Risk" x={177} y={1131} size={22} color="#111" />
    </div>
  );
}
